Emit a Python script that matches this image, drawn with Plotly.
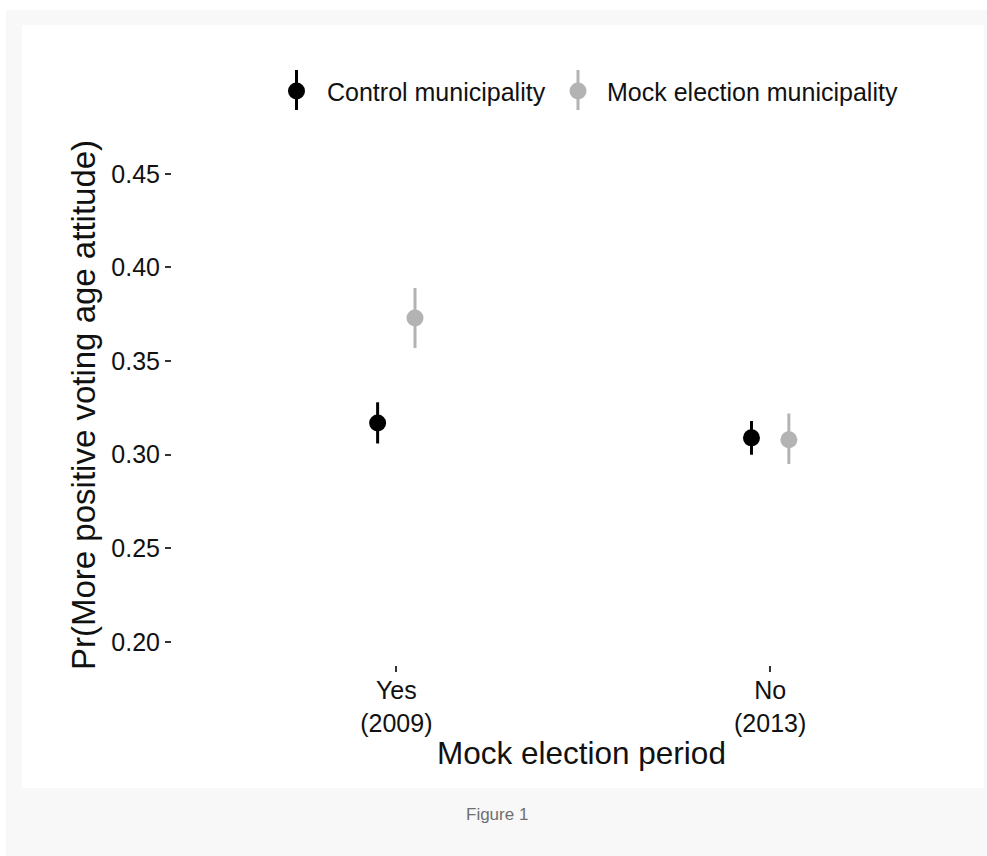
import plotly.graph_objects as go

# ---- data ----
periods = ["Yes<br>(2009)", "No<br>(2013)"]
control_mean = [0.317, 0.309]
control_low = [0.306, 0.300]
control_high = [0.328, 0.318]
mock_mean = [0.373, 0.308]
mock_low = [0.357, 0.295]
mock_high = [0.389, 0.322]
y_ticks = [0.20, 0.25, 0.30, 0.35, 0.40, 0.45]
series_names = ["Control municipality", "Mock election municipality"]
series_colors = ["#000000", "#b3b3b3"]

# ---- layout geometry (pixels) ----
W, H = 987, 856
L, R, T, B = 172, 0, 151, 191
PW, PH = W - L - R, H - T - B
FONT = "Liberation Sans, Arial, Helvetica, sans-serif"


def px(x):
    return (x - L) / PW


def py(y):
    return (H - B - y) / PH


dodge = 0.05
xs = list(range(1, len(periods) + 1))

fig = go.Figure()
for name, col, mean, lo, hi, off in [
    (series_names[0], series_colors[0], control_mean, control_low, control_high, -dodge),
    (series_names[1], series_colors[1], mock_mean, mock_low, mock_high, dodge),
]:
    fig.add_trace(go.Scatter(
        x=[x + off for x in xs], y=mean, mode="markers", name=name,
        marker=dict(color=col, size=17, line=dict(width=0)),
        error_y=dict(type="data", symmetric=False,
                     array=[h - m for h, m in zip(hi, mean)],
                     arrayminus=[m - l for m, l in zip(mean, lo)],
                     color=col, thickness=3, width=0),
        showlegend=False,
    ))

shapes = [
    # outer gray card
    dict(type="rect", xref="paper", yref="paper", x0=px(6), x1=px(990), y0=py(10), y1=py(857),
         fillcolor="#f8f8f8", line=dict(width=0), layer="below"),
    # white figure panel
    dict(type="rect", xref="paper", yref="paper", x0=px(22), x1=px(984), y0=py(25), y1=py(788),
         fillcolor="#ffffff", line=dict(width=0), layer="below"),
]

annotations = []
# manual legend (point + vertical error line)
leg_y = 91
for name, col, cx, tx in [(series_names[0], series_colors[0], 296.5, 325),
                          (series_names[1], series_colors[1], 578, 605)]:
    shapes.append(dict(type="line", xref="paper", yref="paper", x0=px(cx), x1=px(cx),
                       y0=py(leg_y - 21), y1=py(leg_y + 19), line=dict(color=col, width=3)))
    shapes.append(dict(type="circle", xref="paper", yref="paper", x0=px(cx - 8.5), x1=px(cx + 8.5),
                       y0=py(leg_y - 8.5), y1=py(leg_y + 8.5), fillcolor=col, line=dict(width=0)))
    annotations.append(dict(text=name, xref="paper", yref="paper", x=px(tx), y=py(leg_y + 1),
                            xanchor="left", yanchor="middle", showarrow=False,
                            font=dict(family=FONT, size=25, color="#111111")))

# axis titles
annotations.append(dict(text="Pr(More positive voting age attitude)", xref="paper", yref="paper",
                        x=px(83), y=py(405), textangle=-90, xanchor="center", yanchor="middle",
                        showarrow=False, font=dict(family=FONT, size=33, color="#111111")))
annotations.append(dict(text="Mock election period", xref="paper", yref="paper",
                        x=px(581), y=py(753), xanchor="center", yanchor="middle",
                        showarrow=False, font=dict(family=FONT, size=31.5, color="#111111")))
# caption
annotations.append(dict(text="Figure 1", xref="paper", yref="paper",
                        x=px(497), y=py(814), xanchor="center", yanchor="middle",
                        showarrow=False, font=dict(family=FONT, size=17, color="#6f6f6f")))

fig.update_layout(
    width=W, height=H,
    margin=dict(l=L, r=R, t=T, b=B, pad=0),
    paper_bgcolor="#ffffff", plot_bgcolor="rgba(0,0,0,0)",
    shapes=shapes, annotations=annotations,
    font=dict(family=FONT, color="#111111"),
    xaxis=dict(range=[0.4, 2.58], tickvals=xs, ticktext=periods, showgrid=False, zeroline=False,
               showline=False, ticks="outside", ticklen=6, tickwidth=2, tickcolor="#333333",
               ticklabelstandoff=-3,
               tickfont=dict(family=FONT, size=25, color="#111111"), fixedrange=True),
    yaxis=dict(range=[0.1877, 0.4622], tickvals=y_ticks, tickformat=".2f", showgrid=False,
               zeroline=False, showline=False, ticks="outside", ticklen=6, tickwidth=2,
               tickcolor="#333333", tickfont=dict(family=FONT, size=25, color="#111111"),
               fixedrange=True),
    showlegend=False,
)

fig.write_html("out.html", config={"displayModeBar": False},
               post_script="document.body.style.margin='0';document.body.style.overflow='hidden';")
